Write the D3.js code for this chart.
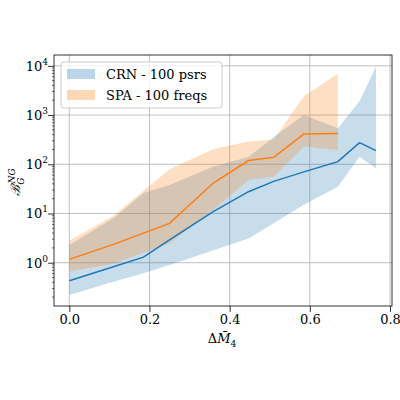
<!DOCTYPE html>
<html><head><meta charset="utf-8">
<script src="https://cdn.jsdelivr.net/npm/d3@7"></script>
<style>body{margin:0;background:#fff}text{font-family:"DejaVu Serif",serif}</style>
</head><body><div id="chart"></div>
<script>
var crnX = [0, 0.11, 0.185, 0.25, 0.36, 0.447, 0.51, 0.585, 0.67, 0.724, 0.765];
var crnMid = [0.43, 0.83, 1.3, 2.9, 11, 27.7, 45, 70, 113, 275, 190];
var crnLo = [0.22, 0.41, 0.61, 0.9, 1.8, 3.1, 6.3, 15, 35, 143, 83];
var crnHi = [2.3, 8, 26, 38, 90, 140, 360, 1000, 540, 1900, 9700];
var spaX = [0, 0.11, 0.25, 0.36, 0.447, 0.51, 0.585, 0.67];
var spaMid = [1.17, 2.36, 6.3, 42, 119, 139, 410, 420];
var spaLo = [0.66, 0.95, 2.5, 12, 48, 56, 230, 195];
var spaHi = [2.8, 9, 79, 205, 290, 320, 2400, 6900];
var xTicks = [0, 0.2, 0.4, 0.6, 0.8];
var yTicks = [1, 10, 100, 1000, 10000];

var svg = d3.select('#chart').append('svg').attr('width', 400).attr('height', 400);
var pLeft = 54, pRight = 392, pTop = 55, pBottom = 306;

var x = d3.scaleLinear().domain([0, 0.8]).range([69.3, 390]);
var y = d3.scaleLog().domain([0.132, 16600]).range([pBottom, pTop]);

// grid
svg.selectAll('.gx').data(xTicks).enter().append('line')
    .attr('x1', d => x(d)).attr('x2', d => x(d)).attr('y1', pTop).attr('y2', pBottom)
    .attr('stroke', '#b0b0b0').attr('stroke-width', 0.8)
svg.selectAll('.gy').data(yTicks).enter().append('line')
    .attr('y1', d => y(d)).attr('y2', d => y(d)).attr('x1', pLeft).attr('x2', pRight)
    .attr('stroke', '#b0b0b0').attr('stroke-width', 0.8)

function band(xs, lo, hi, col) {
    var pts = xs.map((v, i) => [v, lo[i], hi[i]]);
    svg.append('path').datum(pts)
        .attr('d', d3.area().x(d => x(d[0])).y0(d => y(d[1])).y1(d => y(d[2])))
        .attr('fill', col).attr('opacity', 0.25)
}
function line(xs, ys, col) {
    svg.append('path').datum(xs.map((v, i) => [v, ys[i]]))
        .attr('d', d3.line().x(d => x(d[0])).y(d => y(d[1])))
        .attr('fill', 'none').attr('stroke', col).attr('stroke-width', 1.5)
}
band(crnX, crnLo, crnHi, '#1f77b4')
band(spaX, spaLo, spaHi, '#ff7f0e')
line(crnX, crnMid, '#1f77b4')
line(spaX, spaMid, '#ff7f0e')

// axes
var xa = svg.append('g').attr('transform', `translate(0,${pBottom})`)
    .call(d3.axisBottom(x).tickValues(xTicks).tickFormat(d3.format('.1f')).tickSizeOuter(0))
var ya = svg.append('g').attr('transform', `translate(${pLeft},0)`)
    .call(d3.axisLeft(y).tickValues(yTicks).tickFormat('').tickSizeOuter(0))
var minor = [];
[0.1, 1, 10, 100, 1000].forEach(b => { for (var k = 2; k < 10; k++) { if (b * k > 0.132 && b * k < 16600) minor.push(b * k) } })
ya.selectAll('.mn').data(minor).enter().append('line')
    .attr('x1', 0).attr('x2', -2).attr('y1', d => y(d)).attr('y2', d => y(d)).attr('stroke', '#000').attr('stroke-width', 0.6)
svg.selectAll('.domain').remove()
svg.selectAll('.tick line').attr('stroke-width', 0.8)
xa.selectAll('text').attr('font-size', 13).attr('font-family', 'DejaVu Serif').attr('fill', '#000')
svg.append('rect').attr('x', pLeft).attr('y', pTop).attr('width', pRight - pLeft).attr('height', pBottom - pTop)
    .attr('fill', 'none').attr('stroke', '#000').attr('stroke-width', 0.8)

yTicks.forEach((d, i) => {
    var t = svg.append('text').attr('x', pLeft - 6).attr('y', y(d) + 5).attr('text-anchor', 'end').attr('font-size', 13)
    t.append('tspan').text('10')
    t.append('tspan').attr('dy', -6).attr('font-size', 9).text(i)
})

// labels
svg.append('text').attr('x', 222).attr('y', 343).attr('text-anchor', 'middle').attr('font-size', 13)
    .attr('font-family', 'DejaVu Sans').html('Δ<tspan font-style="italic">M̄</tspan><tspan font-size="9" dy="4">4</tspan>')
var yl = svg.append('text').attr('transform', 'translate(20,' + 182 + ') rotate(-90)').attr('text-anchor', 'middle').attr('font-size', 13)
yl.append('tspan').attr('font-style', 'italic').text('ℬ')
yl.append('tspan').attr('font-size', 9).attr('dy', 4).attr('font-style', 'italic').text('G')
yl.append('tspan').attr('font-size', 9).attr('dy', -9).attr('dx', -6).attr('font-style', 'italic').text('NG')

// legend
var lg = svg.append('g')
lg.append('rect').attr('x', 61).attr('y', 62).attr('width', 161).attr('height', 46).attr('rx', 3)
    .attr('fill', '#fff').attr('fill-opacity', 0.8).attr('stroke', '#ccc')
var items = [['CRN - 100 psrs', '#1f77b4'], ['SPA - 100 freqs', '#ff7f0e']]
items.forEach((it, i) => {
    lg.append('rect').attr('x', 67).attr('y', 69 + i * 21).attr('width', 28).attr('height', 10).attr('fill', it[1]).attr('opacity', 0.3)
    lg.append('text').attr('x', 106).attr('y', 79 + i * 21).attr('font-size', 13).text(it[0])
})
</script></body></html>
